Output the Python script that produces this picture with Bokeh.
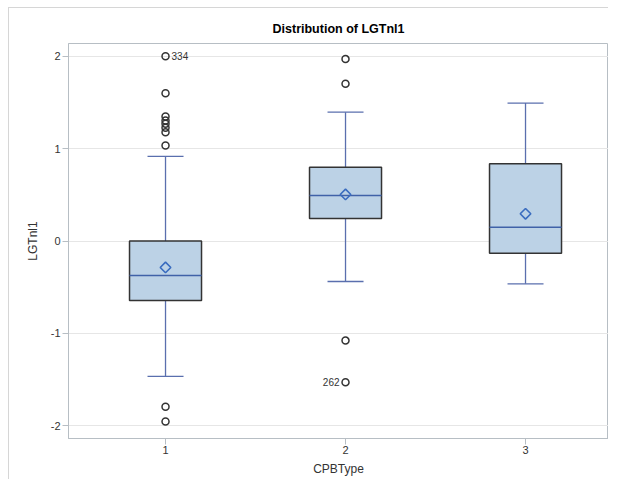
import math
from bokeh.plotting import figure
from bokeh.models import FixedTicker, Range1d, ColumnDataSource
from bokeh.core.properties import value
from bokeh.embed import file_html
from bokeh.resources import INLINE

# ---- data ----
categories = [1, 2, 3]
q1 = [-0.645, 0.244, -0.132]
median = [-0.374, 0.493, 0.150]
q3 = [0.0, 0.80, 0.837]
mean = [-0.287, 0.504, 0.295]
whisker_low = [-1.466, -0.439, -0.464]
whisker_high = [0.916, 1.396, 1.494]

outlier_x = [1, 1, 1, 1, 1, 1, 1, 1, 1, 1, 2, 2, 2, 2]
outlier_y = [2.003, 1.60, 1.350, 1.306, 1.270, 1.227, 1.179, 1.035, -1.795, -1.955,
             1.971, 1.704, -1.079, -1.530]

label_x = [1, 2]
label_y = [2.003, -1.530]
label_text = ["334", "262"]
label_align = ["left", "right"]
label_offset = [6, -6]

y_ticks = [-2, -1, 0, 1, 2]
y_tick_labels = ["-2", "-1", "0", "1", "2"]

BOX_W = 0.4
CAP_W = 0.2

FONT = "Liberation Sans"

p = figure(width=608, height=479, output_backend="svg", toolbar_location=None,
           x_range=Range1d(0.461, 3.461), y_range=Range1d(-2.14, 2.14),
           title="Distribution of LGTnl1",
           min_border_left=68, min_border_right=0, min_border_top=43, min_border_bottom=41)

# outer light frame of the image (left and top edges), drawn as a CSS background
p.border_fill_color = None
p.background_fill_color = "white"
p.styles = {
    "background": ("linear-gradient(#d6d6d6,#d6d6d6) 8px 7px / 1px 100% no-repeat, "
                   "linear-gradient(#d6d6d6,#d6d6d6) 8px 7px / 100% 1px no-repeat, white"),
}

p.title.align = "center"
p.title.text_font = FONT
p.title.text_font_size = "12.5px"
p.title.text_font_style = "bold"
p.title.text_color = "#000000"
p.title.standoff = 15

p.outline_line_color = "#b7bec4"
p.outline_line_width = 1

# grid
p.xgrid.grid_line_color = None
p.ygrid.grid_line_color = "#e6e6e6"
p.ygrid.ticker = FixedTicker(ticks=y_ticks)

for ax in [p.xaxis[0], p.yaxis[0]]:
    ax.axis_line_color = "#b7bec4"
    ax.major_tick_line_color = "#b7bec4"
    ax.major_tick_out = 6
    ax.major_tick_in = 0
    ax.minor_tick_line_color = None
    ax.major_label_text_font = FONT
    ax.major_label_text_font_size = "11px"
    ax.major_label_text_color = "#333333"
    ax.axis_label_text_font = FONT
    ax.axis_label_text_font_size = "12px"
    ax.axis_label_text_font_style = "normal"
    ax.axis_label_text_color = "#333333"

p.xaxis.ticker = FixedTicker(ticks=categories)
p.yaxis.ticker = FixedTicker(ticks=y_ticks)
p.yaxis.major_label_overrides = {t: s for t, s in zip(y_ticks, y_tick_labels)}
p.xaxis.axis_label = "CPBType"
p.yaxis.axis_label = "LGTnl1"
p.xaxis.major_label_standoff = 1
p.yaxis.major_label_standoff = 2
p.xaxis.axis_label_standoff = 5
p.yaxis.axis_label_standoff = 8

src = ColumnDataSource(dict(
    x=categories, q1=q1, q3=q3, med=median, mean=mean,
    lo=whisker_low, hi=whisker_high,
    xl=[c - BOX_W / 2 for c in categories], xr=[c + BOX_W / 2 for c in categories],
    cl=[c - CAP_W / 2 for c in categories], cr=[c + CAP_W / 2 for c in categories],
))

WHISK = "#5a6fae"
# whiskers
p.segment(x0="x", y0="q3", x1="x", y1="hi", source=src, line_color=WHISK, line_width=1.3)
p.segment(x0="x", y0="q1", x1="x", y1="lo", source=src, line_color=WHISK, line_width=1.3)
p.segment(x0="cl", y0="hi", x1="cr", y1="hi", source=src, line_color=WHISK, line_width=1.3)
p.segment(x0="cl", y0="lo", x1="cr", y1="lo", source=src, line_color=WHISK, line_width=1.3)

# boxes
p.vbar(x="x", width=BOX_W, bottom="q1", top="q3", source=src,
       fill_color="#bcd2e6", line_color="#333333", line_width=1.5)
# median
p.segment(x0="xl", y0="med", x1="xr", y1="med", source=src, line_color="#4062a8", line_width=1.5)
# mean (diamond = rotated square)
p.scatter(x="x", y="mean", source=src, marker="square", angle=math.pi / 4, size=7.5,
          fill_color=None, line_color="#3a6cbf", line_width=1.6)

# outliers
p.scatter(x=outlier_x, y=outlier_y, marker="circle", size=7,
          fill_color=None, line_color="#333333", line_width=1.5)

# outlier labels
p.text(x=label_x, y=label_y, text=label_text, x_offset=label_offset,
       text_align=label_align, text_baseline="middle",
       text_font=value(FONT), text_font_size="10px", text_color="#333333")

open("out.html", "w").write(file_html(p, INLINE))
